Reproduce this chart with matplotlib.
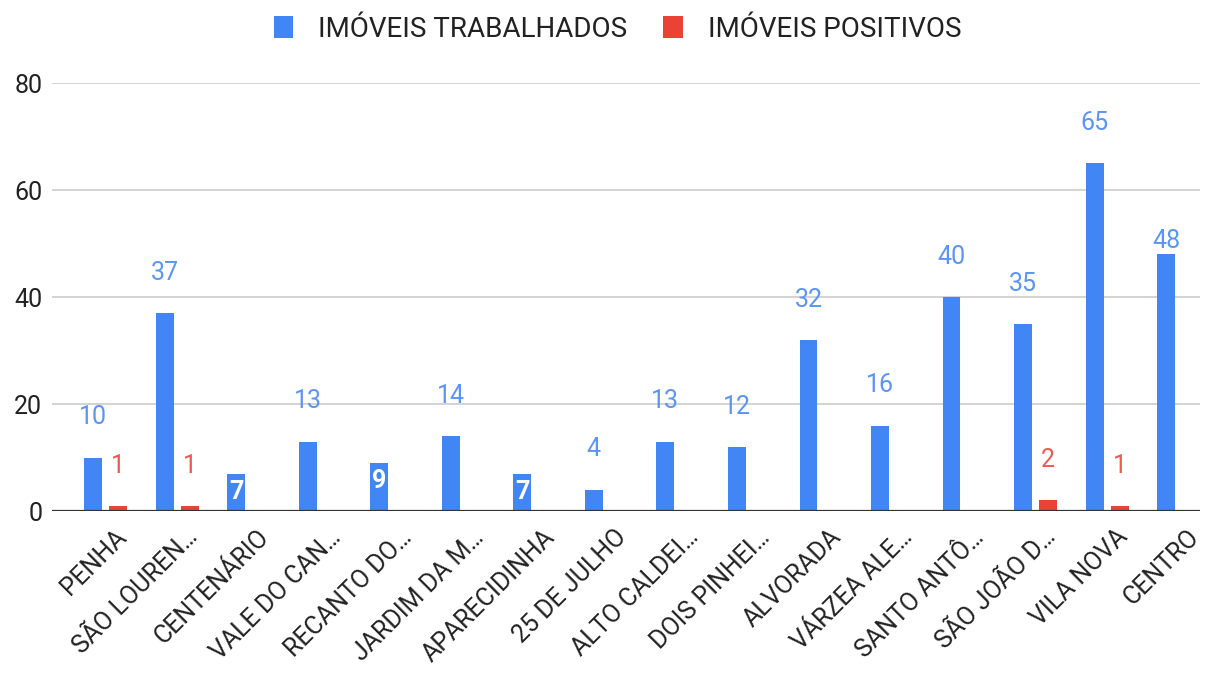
import matplotlib
matplotlib.use("Agg")
import matplotlib.pyplot as plt
import matplotlib.transforms as mtransforms
import numpy as np
from matplotlib.patches import Patch

plt.rcParams['font.family'] = ['Roboto', 'DejaVu Sans']

categories = ["PENHA", "SÃO LOUREN…", "CENTENÁRIO", "VALE DO CAN…", "RECANTO DO…",
              "JARDIM DA M…", "APARECIDINHA", "25 DE JULHO", "ALTO CALDEI…",
              "DOIS PINHEI…", "ALVORADA", "VÁRZEA ALE…", "SANTO ANTÔ…",
              "SÃO JOÃO D…", "VILA NOVA", "CENTRO"]
trabalhados = [10, 37, 7, 13, 9, 14, 7, 4, 13, 12, 32, 16, 40, 35, 65, 48]
positivos = [1, 1, 0, 0, 0, 0, 0, 0, 0, 0, 0, 0, 0, 2, 1, 0]
yticks = [0, 20, 40, 60, 80]

BLUE = "#4285F4"
RED = "#EA4335"
BLUE_TXT = "#5A95F5"
RED_TXT = "#EC5B4F"
TXT = "#222222"

fig = plt.figure(figsize=(12.11, 6.77), dpi=100)
ax = fig.add_axes([0.043, 0.245, 0.948, 0.632])

x = np.arange(len(categories))
w = 0.25
off = 0.175
bars_b = ax.bar(x - off, trabalhados, width=w, color=BLUE, zorder=3)
bars_r = ax.bar(x + off, positivos, width=w, color=RED, zorder=3)

ax.set_ylim(0, 80)
ax.set_xlim(-0.75, 15.3)
ax.set_yticks(yticks)
ax.set_yticklabels([str(t) for t in yticks], fontsize=18, color=TXT)
ax.grid(axis='y', color="#cccccc", linewidth=1.2, zorder=0)
ax.axhline(0, color="#333333", linewidth=1.6, zorder=4)
for s in ax.spines.values():
    s.set_visible(False)
ax.tick_params(axis='both', length=0)
ax.tick_params(axis='y', pad=7)

ax.set_xticks(x)
ax.set_xticklabels(categories, rotation=45, ha='right', rotation_mode='anchor',
                   fontsize=18, color=TXT)
ax.tick_params(axis='x', pad=10)
shift = mtransforms.ScaledTranslation(0.08, 0, fig.dpi_scale_trans)
for lbl in ax.get_xticklabels():
    lbl.set_transform(lbl.get_transform() + shift)

inside = {2, 4, 6}
for i, (b, v) in enumerate(zip(bars_b, trabalhados)):
    cx = b.get_x() + b.get_width() / 2
    if i in inside:
        ax.annotate(str(v), (cx, v), xytext=(0, -13), textcoords='offset points',
                    ha='center', va='center', fontsize=18, color='white',
                    fontweight='bold', zorder=5)
    else:
        dy = 10 if i == len(trabalhados) - 1 else 29
        ax.annotate(str(v), (cx, v), xytext=(0, dy), textcoords='offset points',
                    ha='center', va='center', fontsize=18, color=BLUE_TXT, zorder=5)
for b, v in zip(bars_r, positivos):
    if v > 0:
        cx = b.get_x() + b.get_width() / 2
        ax.annotate(str(v), (cx, v), xytext=(0, 29), textcoords='offset points',
                    ha='center', va='center', fontsize=18, color=RED_TXT, zorder=5)

handles = [Patch(facecolor=BLUE, label="IMÓVEIS TRABALHADOS"),
           Patch(facecolor=RED, label="IMÓVEIS POSITIVOS")]
fig.legend(handles=handles, loc='center', bbox_to_anchor=(0.51, 0.957), ncol=2,
           frameon=False, fontsize=20, handlelength=0.7, handleheight=0.85,
           columnspacing=1.3, handletextpad=0.9, labelcolor=TXT)

fig.savefig("out.png", dpi=100)
